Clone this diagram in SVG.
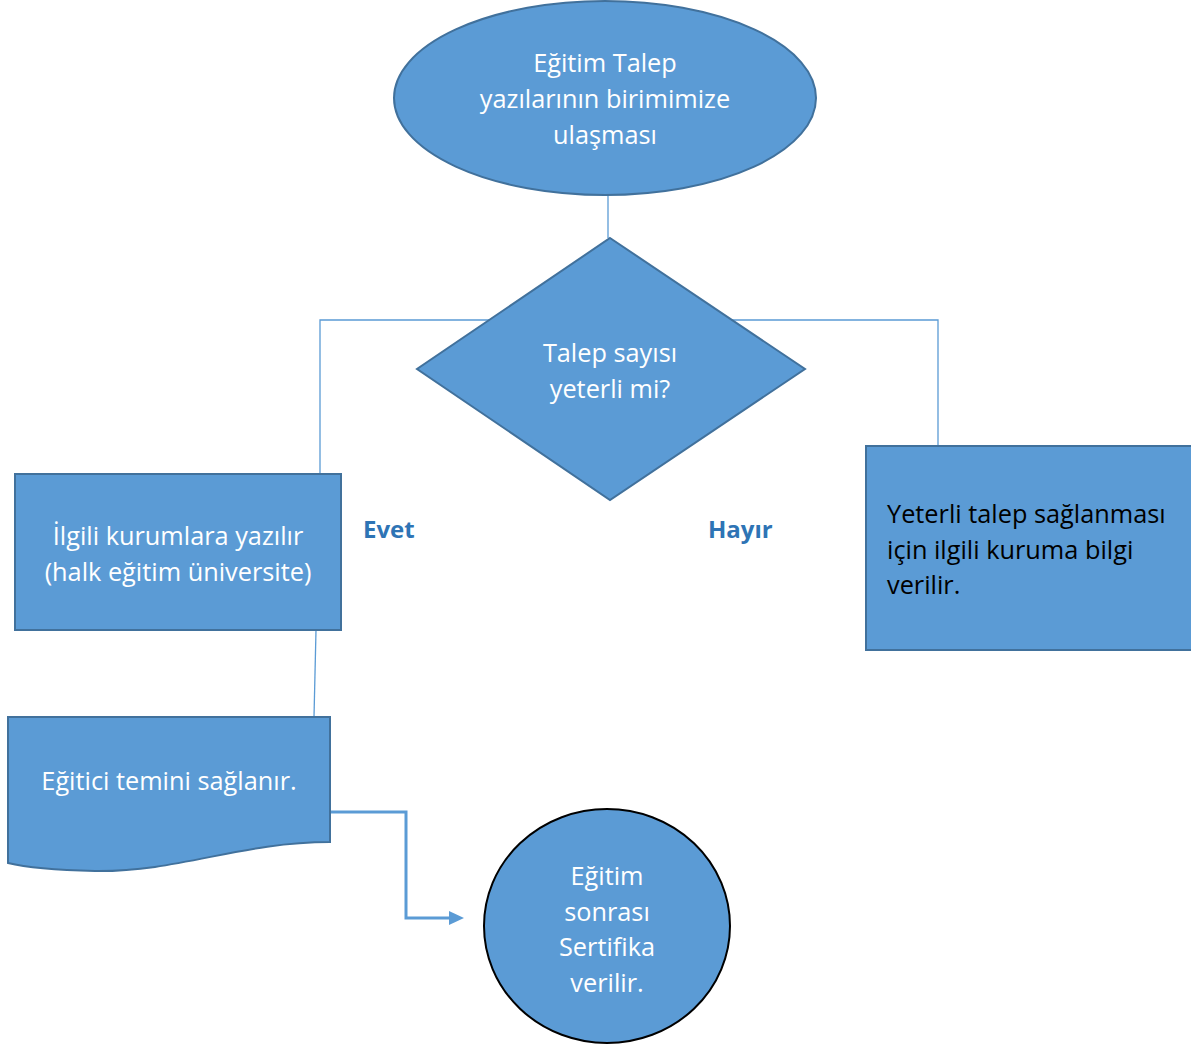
<svg xmlns="http://www.w3.org/2000/svg" width="1191" height="1044" viewBox="0 0 1191 1044">
<defs>
<style>
.shape{fill:#5B9BD5;stroke:#41719C;stroke-width:2}
.t{font-family:"Open Sans","Noto Sans",sans-serif;font-size:25.3px;fill:#fff;text-anchor:middle}
.tb{font-family:"Open Sans","Noto Sans",sans-serif;font-size:25.3px;fill:#000}
.lbl{font-family:"Open Sans","Noto Sans",sans-serif;font-size:24px;font-weight:bold;fill:#2E74B5}
.c{fill:none;stroke:#5B9BD5;stroke-width:1.3}
.ca{fill:none;stroke:#5B9BD5;stroke-width:3}
</style>
<marker id="arr" markerWidth="16" markerHeight="16" refX="1" refY="8" orient="auto" markerUnits="userSpaceOnUse">
<path d="M0,1 L15,8 L0,15 Z" fill="#5B9BD5"/>
</marker>
</defs>
<rect width="1191" height="1044" fill="#fff"/>
<g id="connectors">
<path class="c" d="M608,195 V238"/>
<path class="c" d="M490,320 H320 V474"/>
<path class="c" d="M730,320 H938 V446"/>
<path class="c" d="M316,630 L314,717"/>
<path class="ca" d="M330,812 H406 V918 H450" marker-end="url(#arr)"/>
</g>
<g id="start">
<ellipse class="shape" cx="605" cy="98" rx="211" ry="97"/>
<text class="t" x="605" y="72">Eğitim Talep</text>
<text class="t" x="605" y="108">yazılarının birimimize</text>
<text class="t" x="605" y="144">ulaşması</text>
</g>
<g id="decision">
<polygon class="shape" points="610,238 805,369 610,500 417,369"/>
<text class="t" x="610" y="362">Talep sayısı</text>
<text class="t" x="610" y="398">yeterli mi?</text>
</g>
<g id="evet-box">
<rect class="shape" x="15" y="474" width="326" height="156"/>
<text class="t" x="178" y="545">İlgili kurumlara yazılır</text>
<text class="t" x="178" y="581">(halk eğitim üniversite)</text>
</g>
<g id="hayir-box">
<rect class="shape" x="866" y="446" width="330" height="204"/>
<text class="tb" x="887" y="523">Yeterli talep sağlanması</text>
<text class="tb" x="887" y="559">için ilgili kuruma bilgi</text>
<text class="tb" x="887" y="594">verilir.</text>
</g>
<text class="lbl" x="363" y="538">Evet</text>
<text class="lbl" x="708" y="538">Hayır</text>
<g id="document">
<path class="shape" d="M8,717 H330 V842 C240,842 180,872 95,871 C50,870 20,866 8,863 Z"/>
<text class="t" x="169" y="790">Eğitici temini sağlanır.</text>
</g>
<g id="end">
<ellipse cx="607" cy="926" rx="123" ry="117" fill="#5B9BD5" stroke="#000" stroke-width="2"/>
<text class="t" x="607" y="885">Eğitim</text>
<text class="t" x="607" y="921">sonrası</text>
<text class="t" x="607" y="956">Sertifika</text>
<text class="t" x="607" y="992">verilir.</text>
</g>
</svg>
